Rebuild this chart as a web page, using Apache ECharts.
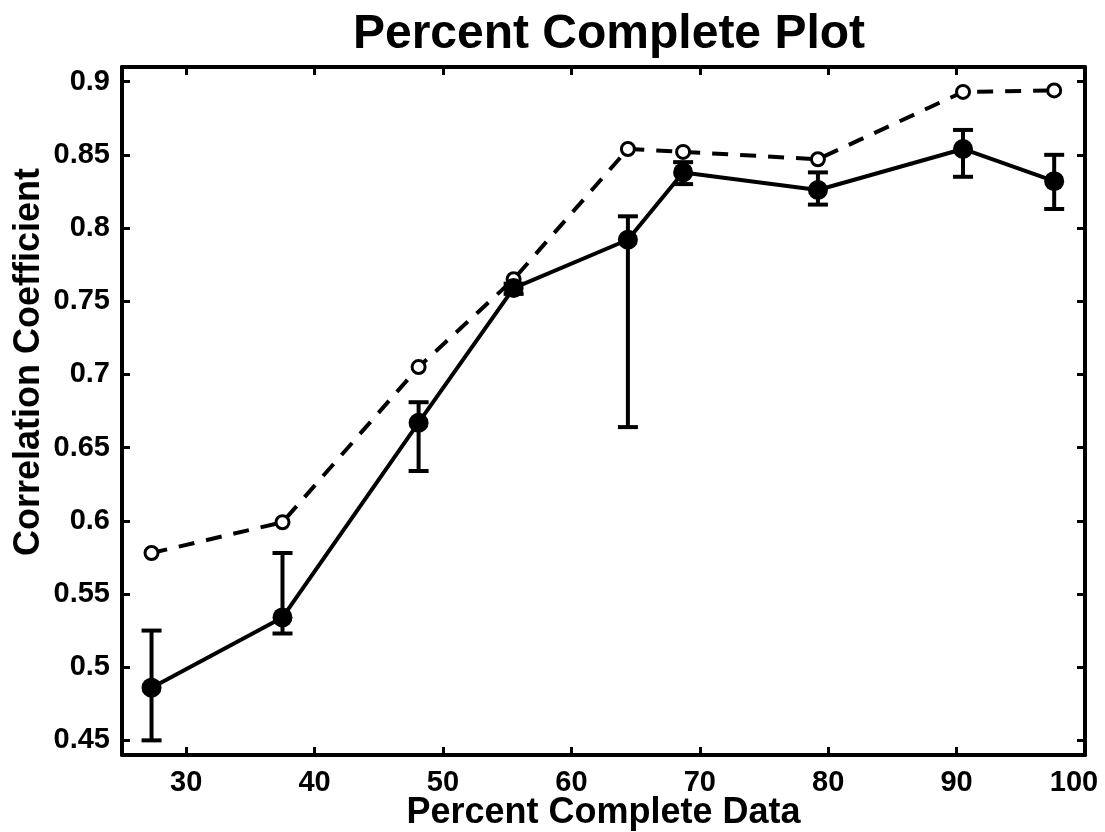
<!DOCTYPE html>
<html>
<head>
<meta charset="utf-8">
<script src="https://cdn.jsdelivr.net/npm/echarts@6/dist/echarts.min.js"></script>
<style>
  html, body { margin: 0; padding: 0; background: #fff; }
  #main { width: 1105px; height: 832px; }
</style>
</head>
<body>
<div id="main"></div>
<script>
// data
var pctComplete = [27.3, 37.5, 48.1, 55.5, 64.4, 68.7, 79.2, 90.5, 97.6];
var corrMean    = [0.486, 0.534, 0.667, 0.759, 0.792, 0.838, 0.826, 0.854, 0.832];
var errLow      = [0.450, 0.523, 0.634, 0.755, 0.664, 0.830, 0.816, 0.835, 0.813];
var errHigh     = [0.525, 0.578, 0.681, 0.762, 0.808, 0.845, 0.838, 0.867, 0.850];
var corrAll     = [0.578, 0.599, 0.705, 0.765, 0.854, 0.852, 0.847, 0.893, 0.894];

var xTickLabels = ['30', '40', '50', '60', '70', '80', '90', '100'];
var yTickLabels = ['0.45', '0.5', '0.55', '0.6', '0.65', '0.7', '0.75', '0.8', '0.85', '0.9'];

var FONT = 'Liberation Sans';

function pairs(xs, ys) {
    var out = [];
    for (let i = 0; i < xs.length; i++) {
        out.push([xs[i], ys[i]]);
    }
    return out;
}

var errData = [];
for (let i = 0; i < pctComplete.length; i++) {
    errData.push([pctComplete[i], errLow[i], errHigh[i]]);
}

function pickLabel(list) {
    return function (v) {
        let s = String(+v.toFixed(2));
        if (list.indexOf(s) < 0) return '';
        // last x label is nudged left so it stays on the page
        if (s === list[list.length - 1] && list === xTickLabels) return '{last|' + s + '}';
        return s;
    };
}

var axisLineStyle = { color: '#000', width: 4 };
var tickStyle = { show: true, inside: true, length: 8, lineStyle: { color: '#000', width: 3 } };

var chart = echarts.init(document.getElementById('main'));

var option = {
    backgroundColor: '#fff',
    animation: false,
    title: {
        text: 'Percent Complete Plot',
        left: 604,
        textAlign: 'center',
        top: 6,
        textStyle: { fontFamily: FONT, fontWeight: 'bold', fontSize: 48, color: '#000' }
    },
    // y label sits a bit above the axis middle in the original
    graphic: [{
        type: 'text',
        x: 29,
        y: 362,
        rotation: Math.PI / 2,
        style: {
            text: 'Correlation Coefficient',
            fill: '#000',
            font: 'bold 36px "Liberation Sans"',
            textAlign: 'center',
            textVerticalAlign: 'middle'
        }
    }],
    grid: { left: 122, right: 20, top: 67, bottom: 77, outerBoundsMode: 'none', containLabel: false },
    xAxis: [
        {
            type: 'value',
            position: 'bottom',
            min: 25, max: 100,
            splitNumber: 7, minInterval: 10, maxInterval: 10,
            axisLine: { show: true, lineStyle: axisLineStyle },
            axisTick: tickStyle,
            splitLine: { show: false },
            axisLabel: {
                margin: 13, color: '#000', fontFamily: FONT, fontWeight: 'bold', fontSize: 29,
                showMinLabel: false,
                formatter: pickLabel(xTickLabels),
                rich: {
                    last: { fontFamily: FONT, fontWeight: 'bold', fontSize: 29, color: '#000', padding: [0, 22, 0, 0] }
                }
            },
            name: 'Percent Complete Data',
            nameLocation: 'middle',
            nameGap: 40,
            nameMoveOverlap: false,
            nameTextStyle: { fontFamily: FONT, fontWeight: 'bold', fontSize: 36, color: '#000' }
        },
        {
            type: 'value',
            position: 'top',
            min: 25, max: 100,
            splitNumber: 7, minInterval: 10, maxInterval: 10,
            axisLine: { show: true, lineStyle: axisLineStyle },
            axisTick: tickStyle,
            splitLine: { show: false },
            axisLabel: { show: false }
        }
    ],
    yAxis: [
        {
            type: 'value',
            position: 'left',
            min: 0.44, max: 0.91,
            splitNumber: 9, minInterval: 0.05, maxInterval: 0.05,
            axisLine: { show: true, lineStyle: axisLineStyle },
            axisTick: tickStyle,
            splitLine: { show: false },
            axisLabel: {
                margin: 12, color: '#000', fontFamily: FONT, fontWeight: 'bold', fontSize: 29,
                showMinLabel: false, showMaxLabel: false,
                formatter: pickLabel(yTickLabels)
            }
        },
        {
            type: 'value',
            position: 'right',
            min: 0.44, max: 0.91,
            splitNumber: 9, minInterval: 0.05, maxInterval: 0.05,
            axisLine: { show: true, lineStyle: axisLineStyle },
            axisTick: tickStyle,
            splitLine: { show: false },
            axisLabel: { show: false }
        }
    ],
    series: [
        {
            name: 'all',
            type: 'line',
            data: pairs(pctComplete, corrAll),
            symbol: 'circle',
            symbolSize: 13,
            lineStyle: { color: '#000', width: 4, type: [16, 12] },
            itemStyle: { color: '#fff', borderColor: '#000', borderWidth: 3 },
            z: 3
        },
        {
            name: 'errors',
            type: 'custom',
            data: errData,
            renderItem: function (params, api) {
                let x = api.value(0);
                let lo = api.coord([x, api.value(1)]);
                let hi = api.coord([x, api.value(2)]);
                let cap = 10;
                let st = { stroke: '#000', lineWidth: 4 };
                return {
                    type: 'group',
                    children: [
                        { type: 'line', shape: { x1: lo[0], y1: lo[1], x2: hi[0], y2: hi[1] }, style: st },
                        { type: 'line', shape: { x1: lo[0] - cap, y1: lo[1], x2: lo[0] + cap, y2: lo[1] }, style: st },
                        { type: 'line', shape: { x1: hi[0] - cap, y1: hi[1], x2: hi[0] + cap, y2: hi[1] }, style: st }
                    ]
                };
            },
            z: 4
        },
        {
            name: 'mean',
            type: 'line',
            data: pairs(pctComplete, corrMean),
            symbol: 'circle',
            symbolSize: 20,
            lineStyle: { color: '#000', width: 4 },
            itemStyle: { color: '#000' },
            z: 5
        }
    ]
};

chart.setOption(option);
</script>
</body>
</html>
